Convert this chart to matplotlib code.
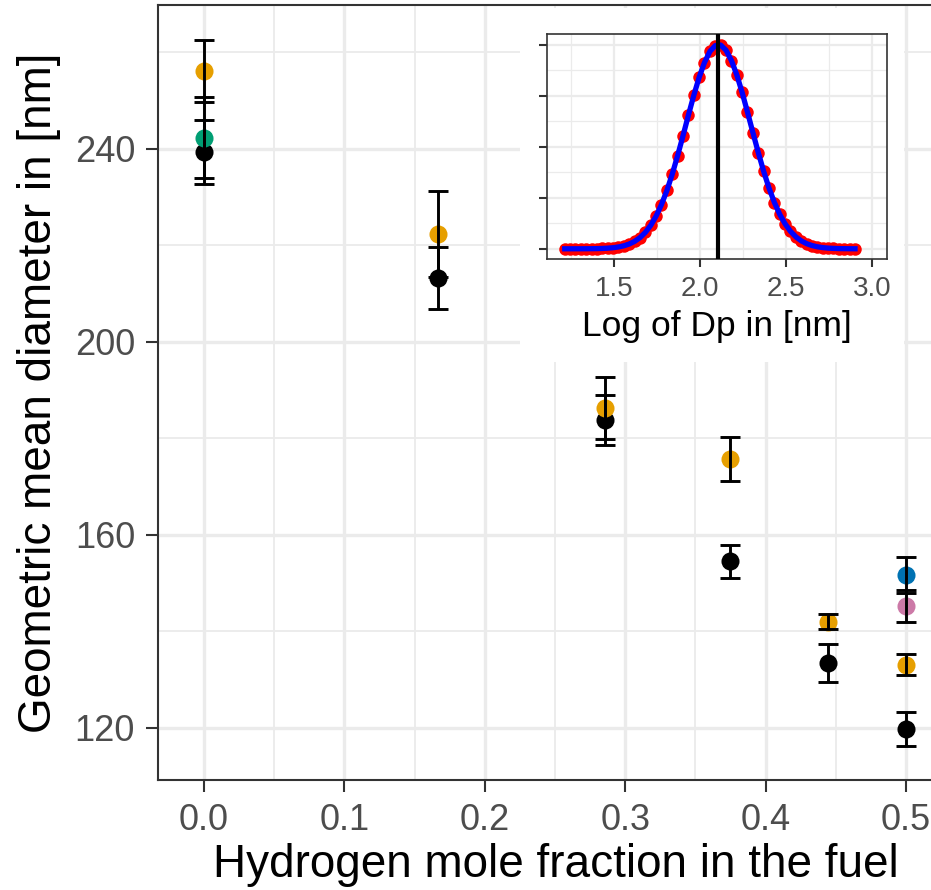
import numpy as np
import matplotlib
matplotlib.use('Agg')
import matplotlib.pyplot as plt
from matplotlib.ticker import MultipleLocator, NullFormatter

plt.rcParams['font.family'] = ['Liberation Sans', 'DejaVu Sans']

# main panel data: hydrogen mole fraction vs geometric mean diameter
h2_frac = [0.0, 0.1667, 0.2857, 0.375, 0.4444, 0.5]
black_gmd = [239.4, 213.3, 183.8, 154.5, 133.4, 119.7]
black_err = [6.6, 6.45, 5.15, 3.45, 3.9, 3.55]
orange_gmd = [256.2, 222.4, 186.3, 175.75, 142.0, 133.1]
orange_err = [6.4, 8.9, 6.4, 4.55, 1.55, 2.2]
green_x, green_gmd, green_err = [0.0], [242.3], [8.4]
blue_x, blue_gmd, blue_err = [0.5], [151.7], [3.8]
pink_x, pink_gmd, pink_err = [0.5], [145.3], [3.35]

# inset data: normalised size distribution vs log10(Dp)
log_dp = [1.212, 1.243, 1.274, 1.306, 1.337, 1.368, 1.399, 1.431, 1.462, 1.493,
          1.524, 1.556, 1.587, 1.618, 1.649, 1.681, 1.712, 1.743, 1.774, 1.806,
          1.837, 1.868, 1.899, 1.931, 1.962, 1.993, 2.024, 2.056, 2.087, 2.118,
          2.149, 2.181, 2.212, 2.243, 2.274, 2.306, 2.337, 2.368, 2.399, 2.431,
          2.462, 2.493, 2.524, 2.556, 2.587, 2.618, 2.649, 2.681, 2.712, 2.743,
          2.774, 2.806, 2.837, 2.868, 2.899]
dist = [0.0, 0.0, 0.0001, 0.0001, 0.0003, 0.0005, 0.0009, 0.0017, 0.0031, 0.0053,
        0.0089, 0.0147, 0.0234, 0.0362, 0.0544, 0.0807, 0.115, 0.160, 0.216, 0.286,
        0.366, 0.456, 0.552, 0.655, 0.751, 0.839, 0.912, 0.967, 0.995, 0.998,
        0.973, 0.922, 0.852, 0.766, 0.670, 0.568, 0.471, 0.380, 0.298, 0.226,
        0.168, 0.122, 0.0857, 0.058, 0.0387, 0.0251, 0.0159, 0.0096, 0.0058, 0.0034,
        0.0019, 0.001, 0.0006, 0.0003, 0.0001]
gmd_log = 2.105

W, H = 931, 890
fig = plt.figure(figsize=(W / 100, H / 100), dpi=100)


def box(l, t, r, b):
    return [l / W, (H - b) / H, (r - l) / W, (b - t) / H]


grid_col = '#EBEBEB'
edge_col = '#333333'

ax = fig.add_axes(box(158, 5, 953, 780))
ax.set_xlim(-0.0328, 0.5335)
ax.set_ylim(109.2, 269.8)
ax.xaxis.set_major_locator(MultipleLocator(0.1))
ax.xaxis.set_minor_locator(MultipleLocator(0.05))
ax.yaxis.set_major_locator(MultipleLocator(40))
ax.yaxis.set_minor_locator(MultipleLocator(20))
ax.grid(which='major', color=grid_col, lw=2.4, zorder=0)
ax.grid(which='minor', color=grid_col, lw=1.3, zorder=0)
ax.set_axisbelow(True)
for s in ax.spines.values():
    s.set_color(edge_col)
    s.set_linewidth(1.5)
ax.tick_params(which='major', length=8.5, width=1.5, color=edge_col,
               labelsize=26, labelcolor='#4D4D4D', pad=8)
ax.tick_params(which='minor', length=0)
ax.xaxis.set_major_formatter(matplotlib.ticker.FormatStrFormatter('%.1f'))

series = [
    (h2_frac, black_gmd, black_err, 'black'),
    (h2_frac, orange_gmd, orange_err, '#E69F00'),
    (green_x, green_gmd, green_err, '#009E73'),
    (blue_x, blue_gmd, blue_err, '#0072B2'),
    (pink_x, pink_gmd, pink_err, '#CC79A7'),
]
for xs, ys, es, c in series:
    ax.plot(xs, ys, 'o', color=c, ms=13, mec='none', zorder=3)
for xs, ys, es, c in series:
    ax.errorbar(xs, ys, yerr=es, fmt='none', ecolor='black', elinewidth=2.1,
                capsize=7.5, capthick=2.1, zorder=4)

ax.set_xlabel('Hydrogen mole fraction in the fuel', fontsize=33, labelpad=4)
ax.set_ylabel('Geometric mean diameter in [nm]', fontsize=33, labelpad=10)

# white background behind the inset
bg = fig.add_axes(box(520, 8, 904, 362))
bg.set_facecolor('white')
bg.set_xticks([])
bg.set_yticks([])
for s in bg.spines.values():
    s.set_visible(False)

ins = fig.add_axes(box(547, 34, 887, 259))
ins.set_xlim(1.109, 3.085)
ins.set_ylim(-0.05, 1.052)
ins.xaxis.set_major_locator(MultipleLocator(0.5))
ins.xaxis.set_minor_locator(MultipleLocator(0.25))
ins.yaxis.set_major_locator(MultipleLocator(0.25))
ins.yaxis.set_minor_locator(MultipleLocator(0.125))
ins.yaxis.set_major_formatter(NullFormatter())
ins.grid(which='major', color=grid_col, lw=1.6, zorder=0)
ins.grid(which='minor', color=grid_col, lw=0.9, zorder=0)
ins.set_axisbelow(True)
for s in ins.spines.values():
    s.set_color(edge_col)
    s.set_linewidth(1.2)
ins.tick_params(which='major', length=6, width=1.5, color=edge_col,
                labelsize=20, labelcolor='#4D4D4D', pad=6)
ins.tick_params(which='minor', length=0)
ins.plot(log_dp, dist, 'o', color='red', ms=9, mec='none', zorder=2)
ins.plot(log_dp, dist, '-', color='blue', lw=3.8, zorder=3)
ins.axvline(gmd_log, color='black', lw=3, zorder=4)
ins.set_xlabel('Log of Dp in [nm]', fontsize=25.5, labelpad=6)

fig.savefig('out.png', dpi=100)
